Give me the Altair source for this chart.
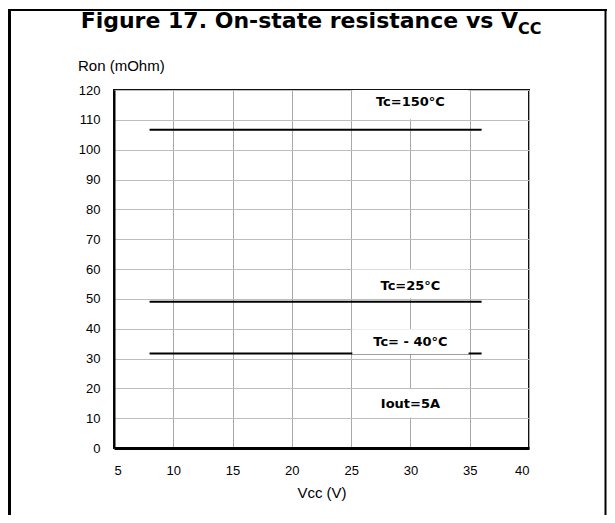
import altair as alt
import pandas as pd

# ---- data ----
series = ["Tc=150°C", "Tc=25°C", "Tc= - 40°C"]
vcc_start = [8, 8, 8]
vcc_end = [36, 36, 36]
ron_values = [106.7, 49.0, 31.7]

box_labels = ["Tc=150°C", "Tc=25°C", "Tc= - 40°C", "Iout=5A"]
box_x1 = [25.1, 25.1, 25.1, 25.1]
box_x2 = [34.9, 34.9, 34.9, 34.9]
box_y1 = [110.2, 50.2, 31.4, 10.2]
box_y2 = [120.0, 59.8, 39.8, 19.8]
label_y = [116.0, 54.2, 35.5, 14.8]

x_ticks = [5, 10, 15, 20, 25, 30, 35, 40]
y_ticks = [0, 10, 20, 30, 40, 50, 60, 70, 80, 90, 100, 110, 120]

title_main = "Figure 17. On-state resistance vs V"
title_sub = "CC"
y_title = "Ron (mOhm)"
x_title = "Vcc (V)"

FONT = "Liberation Sans"
BOLD_FONT = "DejaVu Sans"
W, H = 415, 358
PL, PT, PR, PB = 106, 82, 78, 67

lines_df = pd.DataFrame({"series": series, "x1": vcc_start, "x2": vcc_end, "ron": ron_values})
boxes_df = pd.DataFrame({"label": box_labels, "x1": box_x1, "x2": box_x2,
                         "y1": box_y1, "y2": box_y2, "ly": label_y,
                         "lx": [(a + b) / 2 for a, b in zip(box_x1, box_x2)]})

xscale = alt.Scale(domain=[5, 40], nice=False, zero=False)
yscale = alt.Scale(domain=[0, 120], nice=False)

xaxis = alt.Axis(values=x_ticks, grid=True, gridColor="#a8a8a8", gridWidth=1,
                 domainColor="black", domainWidth=3, ticks=False, labelOverlap=False,
                 labelPadding=16, labelFontSize=13, labelFont=FONT, labelColor="black",
                 title=x_title, titleFont=FONT, titleFontSize=15, titleFontWeight="normal",
                 titleColor="black", titlePadding=8, labelAngle=0)
yaxis = alt.Axis(values=y_ticks, grid=True, gridColor="#bdbdbd", gridWidth=1,
                 domainColor="black", domainWidth=2, ticks=False, labelOverlap=False,
                 labelPadding=14, labelFontSize=13, labelFont=FONT, labelColor="black",
                 title=None)

lines = alt.Chart(lines_df).mark_rule(color="black", strokeWidth=2).encode(
    x=alt.X("x1:Q", scale=xscale, axis=xaxis),
    x2="x2:Q",
    y=alt.Y("ron:Q", scale=yscale, axis=yaxis),
)

boxes = alt.Chart(boxes_df).mark_rect(fill="white").encode(
    x=alt.X("x1:Q", scale=xscale, axis=xaxis), x2="x2:Q",
    y=alt.Y("y1:Q", scale=yscale, axis=yaxis), y2="y2:Q",
)

box_text = alt.Chart(boxes_df).mark_text(font=BOLD_FONT, fontSize=13, fontWeight="bold",
                                         color="black", baseline="middle", align="center").encode(
    x=alt.X("lx:Q", scale=xscale, axis=xaxis),
    y=alt.Y("ly:Q", scale=yscale, axis=yaxis),
    text="label:N"
)

title_df = pd.DataFrame({"t": [title_main]})
title_a = alt.Chart(title_df).mark_text(font=BOLD_FONT, fontSize=22, fontWeight="bold",
                                        color="black", align="right", baseline="alphabetic").encode(
    x=alt.value(404), y=alt.value(-62.5), text="t:N")
sub_df = pd.DataFrame({"t": [title_sub]})
title_b = alt.Chart(sub_df).mark_text(font=BOLD_FONT, fontSize=16, fontWeight="bold",
                                      color="black", align="left", baseline="alphabetic").encode(
    x=alt.value(404), y=alt.value(-55.7), text="t:N")

ytitle_df = pd.DataFrame({"t": [y_title]})
ytitle = alt.Chart(ytitle_df).mark_text(font=FONT, fontSize=15, color="black",
                                        align="left", baseline="alphabetic").encode(
    x=alt.value(-36), y=alt.value(-19.3), text="t:N")

# figure frame (top, left, right)
frame_df = pd.DataFrame({"k": [0]})
total_h = PT + H + PB
top_line = alt.Chart(frame_df).mark_rule(color="black", strokeWidth=2).encode(
    x=alt.value(-PL), x2=alt.value(W + PR), y=alt.value(-80), y2=alt.value(-80))
left_line = alt.Chart(frame_df).mark_rule(color="black", strokeWidth=3).encode(
    x=alt.value(-104.5), x2=alt.value(-104.5), y=alt.value(-81), y2=alt.value(total_h - PT))
right_line = alt.Chart(frame_df).mark_rule(color="black", strokeWidth=2).encode(
    x=alt.value(W + PR - 1.5), x2=alt.value(W + PR - 1.5), y=alt.value(-81), y2=alt.value(total_h - PT))

chart = alt.layer(lines, boxes, box_text, title_a, title_b, ytitle,
                  top_line, left_line, right_line).properties(
    width=W, height=H,
    autosize=alt.AutoSizeParams(type="none"),
    padding={"left": PL, "top": PT, "right": PR, "bottom": PB},
    background="white",
).configure_view(stroke="#111111", strokeWidth=2)

chart.save("out.html", embed_options={"renderer": "svg", "actions": False})
